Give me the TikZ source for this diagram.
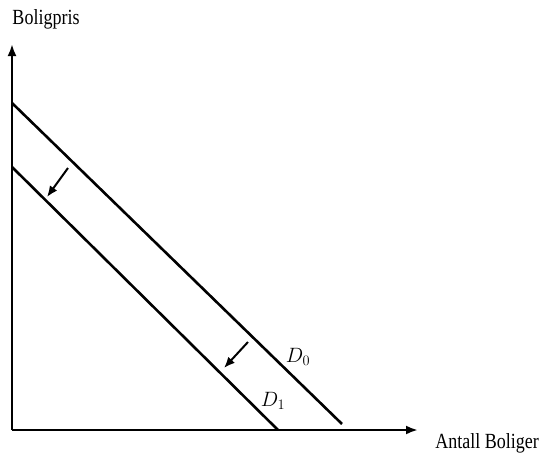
\documentclass[tikz,border=0pt]{standalone}
\usepackage{fontspec}
\setmainfont{Liberation Serif}
\usetikzlibrary{arrows.meta}
\begin{document}
\begin{tikzpicture}[x=1pt,y=-1pt,
  axis/.style={line width=2.8pt,-{Latex[length=12pt,width=9pt]}},
  curve/.style={line width=2.6pt},
  shiftarrow/.style={line width=2pt,-{Latex[length=11pt,width=9pt]}},
  lbl/.style={inner sep=0pt,font=\fontsize{18}{20}\selectfont},
  dlbl/.style={inner sep=0pt,font=\fontsize{20}{22}\selectfont}]
\useasboundingbox (0,0) rectangle (542,458);
\coordinate (O) at (12,430);
\coordinate (ytop) at (12,44);
\coordinate (xend) at (418,430);
\draw[axis] (O) -- (ytop);
\draw[axis] (O) -- (xend);
\coordinate (d0a) at (12,103);
\coordinate (d0b) at (342,424);
\coordinate (d1a) at (12,167);
\coordinate (d1b) at (278,430);
\draw[curve] (d0a) -- (d0b);
\draw[curve] (d1a) -- (d1b);
\coordinate (a1s) at (68,168);
\coordinate (a1e) at (47,197);
\coordinate (a2s) at (248,342);
\coordinate (a2e) at (224,368);
\draw[shiftarrow] (a1s) -- (a1e);
\draw[shiftarrow] (a2s) -- (a2e);
\node[dlbl] (D0) at (298,357) {$D_0$};
\node[dlbl] (D1) at (273,401) {$D_1$};
\node[lbl] (yl) at (46,19) {\scalebox{1}[1.2]{Boligpris}};
\node[lbl] (xl) at (487,443) {\scalebox{1}[1.2]{Antall Boliger}};
\end{tikzpicture}
\end{document}
